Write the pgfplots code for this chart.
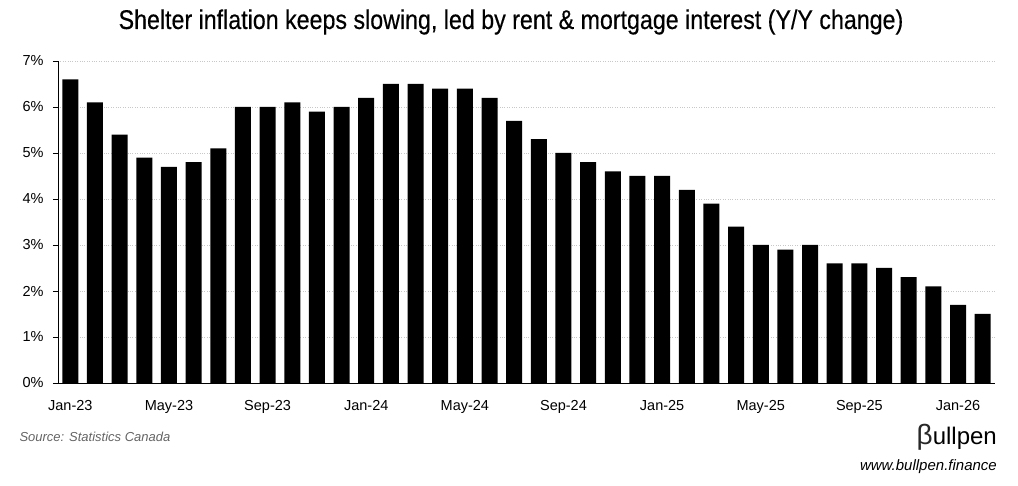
\documentclass[border=0pt]{standalone}
\usepackage{pgfplots}
\pgfplotsset{compat=1.18}
\usepackage{fontspec}
\setmainfont{Liberation Sans}
\newfontfamily\titlefont[FakeStretch=0.86,FakeBold=0.4]{Liberation Sans}

\definecolor{gridgray}{RGB}{200,200,200}
\definecolor{srcgray}{RGB}{100,100,100}

\begin{document}
\begin{tikzpicture}[x=1pt,y=1pt]
% page frame = reference image (1 px = 1 pt)
\path (-58,-103) rectangle (960,383);

\begin{axis}[
    at={(0,0)}, anchor=south west,
    scale only axis,
    width=937pt, height=322pt,
    ybar, bar width=16pt,
    xmin=-0.5, xmax=37.5,
    ymin=0, ymax=7,
    axis x line=bottom, axis y line=left,
    axis line style={-, black, line width=0.8pt},
    ytick={0,1,...,7},
    yticklabel={\pgfmathprintnumber{\tick}\%},
    ymajorgrids,
    grid style={gridgray, dotted, line width=0.6pt},
    tick align=outside,
    ytick style={black, line width=0.8pt},
    major tick length=5pt,
    xtick={0,4,...,36},
    xticklabels={Jan-23,May-23,Sep-23,Jan-24,May-24,Sep-24,Jan-25,May-25,Sep-25,Jan-26},
    xtick style={draw=none},
    extra x ticks={-0.5,3.5,...,35.5},
    extra x tick labels={},
    extra x tick style={xtick style={black, line width=0.8pt}, major tick length=5pt, grid=none},
    tick label style={font=\fontsize{14.5}{16}\selectfont},
    /pgf/number format/assume math mode=true,
    xticklabel style={yshift=-9pt},
    yticklabel style={xshift=-6pt},
]
\addplot[fill=black, draw=none] coordinates {
(0,6.6) (1,6.1) (2,5.4) (3,4.9) (4,4.7) (5,4.8) (6,5.1) (7,6.0)
(8,6.0) (9,6.1) (10,5.9) (11,6.0) (12,6.2) (13,6.5) (14,6.5) (15,6.4)
(16,6.4) (17,6.2) (18,5.7) (19,5.3) (20,5.0) (21,4.8) (22,4.6) (23,4.5)
(24,4.5) (25,4.2) (26,3.9) (27,3.4) (28,3.0) (29,2.9) (30,3.0) (31,2.6)
(32,2.6) (33,2.5) (34,2.3) (35,2.1) (36,1.7) (37,1.5)
};
\end{axis}

\node[font=\titlefont\fontsize{27}{30}\selectfont] at (453,361)
  {Shelter inflation keeps slowing, led by rent \& mortgage interest (Y/Y change)};
\node[anchor=west, text=srcgray, font=\itshape\fontsize{13}{15}\selectfont] at (-42,-54)
  {Source: Statistics Canada};
\node[anchor=east, font=\fontsize{24}{28}\selectfont, inner sep=0pt] at (939,-54)
  {\textcolor[RGB]{40,40,40}{\fontsize{28}{30}\selectfont β}ullpen};
\node[anchor=east, font=\itshape\fontsize{15}{17}\selectfont, inner sep=0pt] at (939,-84)
  {www.bullpen.finance};
\end{tikzpicture}
\end{document}
